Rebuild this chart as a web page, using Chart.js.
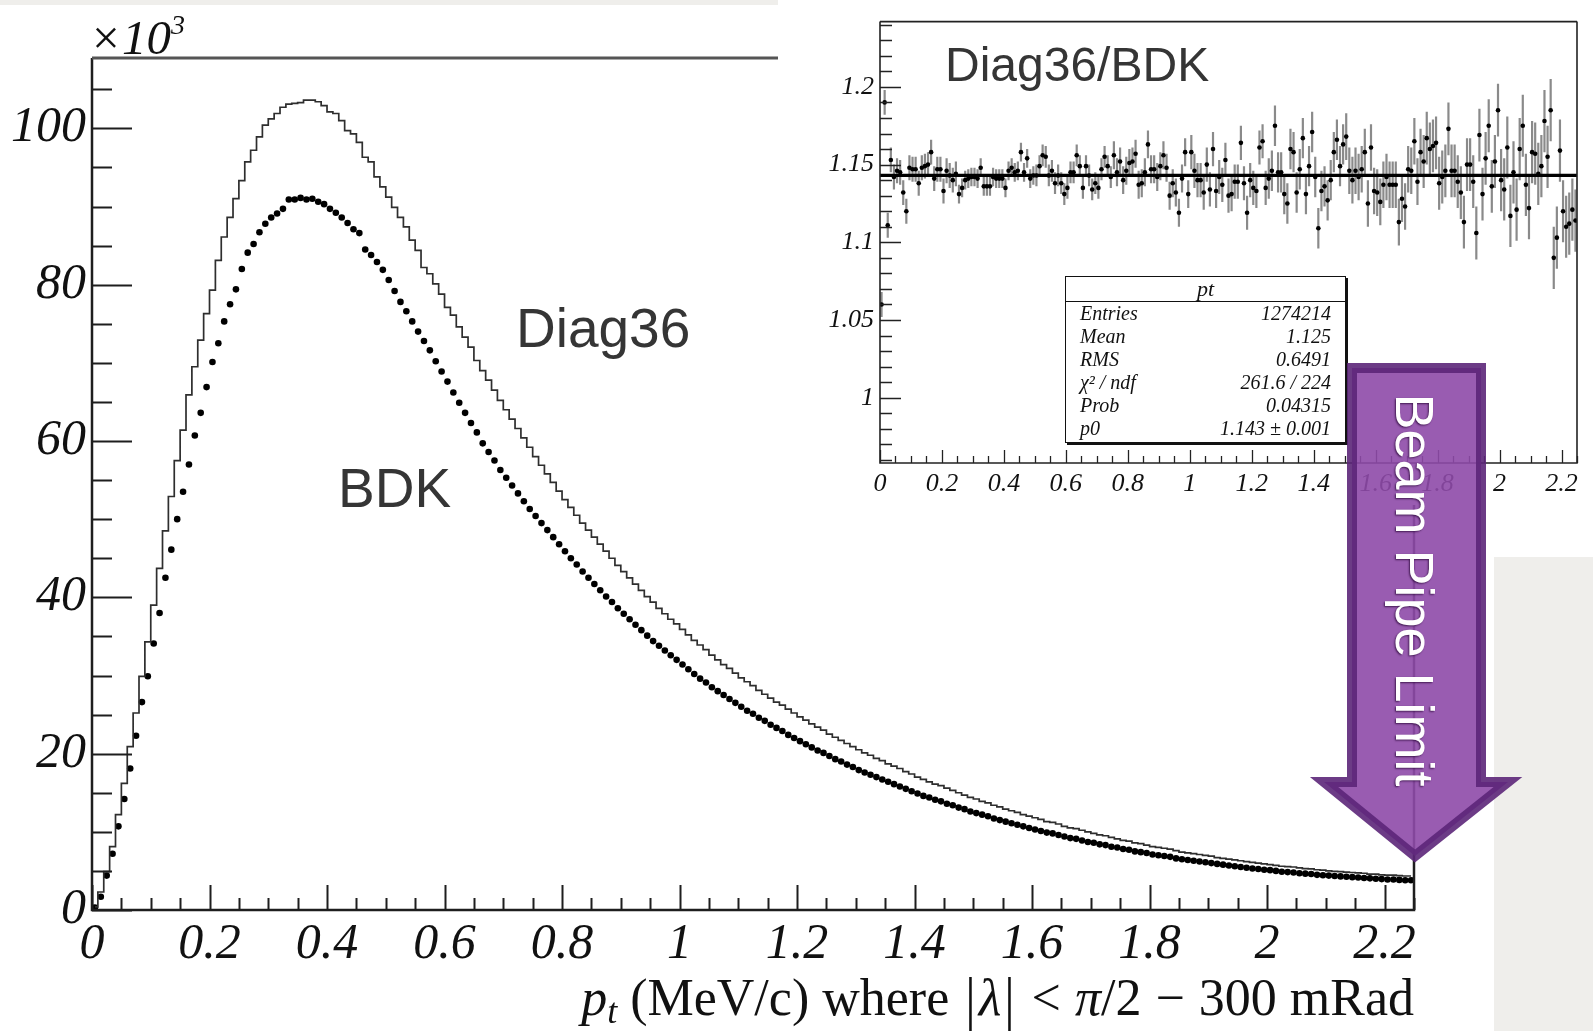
<!DOCTYPE html>
<html>
<head>
<meta charset="utf-8">
<script src="https://cdn.jsdelivr.net/npm/chart.js@4.4.1/dist/chart.umd.min.js"></script>
<style>
  html, body { margin: 0; padding: 0; background: #fff; }
  #page { position: relative; width: 1593px; height: 1031px; overflow: hidden; background: #fff; }
  #mainBox { position: absolute; left: 0; top: 0; width: 1593px; height: 1031px; }
  #insetBox { position: absolute; left: 778px; top: 0; width: 815px; height: 505px; background: #fff; }
  .band { position: absolute; background: #efeeeb; }
  .note { position: absolute; font-family: "Liberation Sans", Arial, sans-serif; color: #353535; line-height: 1; white-space: nowrap; }
  #mult { position: absolute; left: 89px; top: 13px; font: italic 49px "Liberation Serif", serif; line-height: 1; color: #111; }
  #mult span { font-size: 28px; position: relative; top: -20px; }
  #xTitle { position: absolute; right: 179px; top: 972px; font: 52px "Liberation Serif", serif; line-height: 1; color: #111; white-space: nowrap; }
  #xTitle sub { font-size: 36px; vertical-align: -8px; }
  #xTitle .op { display: inline-block; margin: 0 14px; }
  #xTitle .bar { display: inline-block; margin: 0 3px; transform: scaleY(1.15); }
  #stats { position: absolute; left: 1065px; top: 276px; width: 279px; height: 165px; border: 1.5px solid #111;
           box-shadow: 2px 2px 0 #111; background: #fff; font: italic 20px "Liberation Serif", serif; color: #111; }
  #stats .hdr { height: 24px; line-height: 24px; text-align: center; border-bottom: 1.5px solid #111; font-size: 22px; }
  #stats .row { display: flex; justify-content: space-between; height: 23px; line-height: 23px; padding: 0 14px 0 14px; }
  #arrow { position: absolute; left: 0; top: 0; }
  #arrowText { position: absolute; left: 1415px; top: 590px; transform: translate(-50%, -50%) rotate(90deg);
               font: 54px "Liberation Sans", Arial, sans-serif; line-height: 1; color: #fff; white-space: nowrap;
               text-shadow: 1px 1px 2px rgba(45, 10, 60, 0.8); }
</style>
</head>
<body>
<div id="page">
  <div id="mainBox"><canvas id="mainChart" width="1593" height="1031"></canvas></div>
  <div id="insetBox"><canvas id="insetChart" width="815" height="505"></canvas></div>
  <div class="band" style="left:0;top:0;width:778px;height:5px"></div>
  <div class="band" style="left:1494px;top:557px;width:99px;height:474px"></div>
  <div id="mult">×10<span>3</span></div>
  <div id="xTitle"><i>p</i><sub><i>t</i></sub> (MeV/c) where <span class="bar">|</span><i>λ</i><span class="bar">|</span><span class="op">&lt;</span><i>π</i>/2<span class="op">−</span>300 mRad</div>
  <div class="note" style="left:516px;top:301px;font-size:55px">Diag36</div>
  <div class="note" style="left:338px;top:461px;font-size:55px">BDK</div>
  <div class="note" style="left:945px;top:41px;font-size:48px">Diag36/BDK</div>
  <div id="stats"></div>
  <svg id="arrow" width="1593" height="1031">
    <polygon points="1352,368 1481,368 1481,782 1508,782 1415,856 1324,782 1352,782"
             fill="#8e4aa9" fill-opacity="0.9" stroke="#5c2679" stroke-opacity="0.9" stroke-width="10" stroke-linejoin="miter"/>
  </svg>
  <div id="arrowText">Beam Pipe Limit</div>
</div>

<script>
// Histogram contents in 0.01 wide bins of pt, from 0 to 2.25 (x10^3 entries)
const binWidth = 0.01;

const diag36 = [
  0.4, 2.3, 4.9, 8.1, 12.2, 16.2, 20.9, 25.2, 29.9, 34.3,
  39.0, 43.7, 48.5, 52.9, 57.5, 61.4, 65.9, 69.5, 72.9, 76.3,
  79.3, 83.1, 86.1, 88.6, 91.0, 93.3, 95.7, 97.2, 98.9, 100.4,
  101.2, 101.9, 102.7, 103.1, 103.2, 103.3, 103.6, 103.6, 103.4, 102.9,
  102.1, 101.9, 101.0, 99.7, 99.3, 98.2, 96.3, 95.7, 93.8, 92.5,
  91.2, 89.9, 88.6, 87.4, 85.7, 84.4, 82.2, 81.4, 80.1, 78.8,
  77.1, 76.1, 74.6, 73.3, 72.0, 70.3, 69.0, 67.8, 66.5, 65.2,
  64.0, 62.8, 61.6, 60.4, 59.2, 58.0, 56.9, 55.8, 54.7, 53.6,
  52.5, 51.5, 50.5, 49.5, 48.6, 47.7, 46.8, 45.9, 45.0, 44.1,
  43.3, 42.5, 41.7, 40.9, 40.1, 39.4, 38.6, 37.9, 37.2, 36.6,
  35.9, 35.2, 34.5, 33.9, 33.3, 32.6, 32.0, 31.4, 30.9, 30.3,
  29.7, 29.2, 28.7, 28.1, 27.6, 27.1, 26.6, 26.2, 25.7, 25.2,
  24.7, 24.3, 23.8, 23.4, 23.0, 22.5, 22.1, 21.7, 21.3, 20.9,
  20.5, 20.1, 19.8, 19.4, 19.1, 18.7, 18.4, 18.1, 17.7, 17.4,
  17.0, 16.7, 16.4, 16.1, 15.9, 15.6, 15.3, 15.0, 14.7, 14.4,
  14.2, 13.9, 13.7, 13.4, 13.2, 12.9, 12.7, 12.5, 12.2, 12.0,
  11.8, 11.6, 11.3, 11.2, 11.0, 10.7, 10.5, 10.4, 10.2, 10.0,
  9.8, 9.6, 9.5, 9.3, 9.1, 8.9, 8.8, 8.6, 8.5, 8.3,
  8.1, 8.0, 7.9, 7.8, 7.6, 7.4, 7.3, 7.2, 7.1, 7.0,
  6.9, 6.7, 6.6, 6.5, 6.4, 6.3, 6.2, 6.1, 6.0, 5.9,
  5.8, 5.7, 5.6, 5.55, 5.5, 5.4, 5.3, 5.25, 5.15, 5.1,
  5.0, 4.95, 4.9, 4.85, 4.8, 4.75, 4.7, 4.6, 4.6, 4.5,
  4.45, 4.45, 4.4, 4.35, 4.35
];

const bdk = [
  0.3, 1.7, 4.4, 7.2, 10.7, 14.2, 18.1, 22.3, 26.6, 29.9,
  34.1, 38.0, 42.5, 46.1, 50.0, 53.5, 57.0, 60.7, 63.6, 66.9,
  70.1, 72.5, 75.3, 77.5, 79.4, 82.0, 84.1, 85.2, 86.7, 87.8,
  88.6, 89.1, 89.7, 90.9, 90.9, 91.1, 90.9, 91.0, 90.6, 90.3,
  89.7, 89.2, 88.6, 87.9, 87.1, 86.6, 84.5, 83.8, 82.9, 81.9,
  80.6, 79.2, 77.8, 76.6, 75.3, 74.0, 72.8, 71.6, 70.2, 68.9,
  67.6, 66.2, 64.9, 63.6, 62.3, 61.1, 59.7, 58.6, 57.5, 56.3,
  55.3, 54.3, 53.3, 52.3, 51.3, 50.4, 49.5, 48.6, 47.7, 46.8,
  45.9, 45.0, 44.2, 43.3, 42.5, 41.7, 40.9, 40.1, 39.4, 38.6,
  37.9, 37.2, 36.5, 35.8, 35.1, 34.4, 33.8, 33.2, 32.6, 32.0,
  31.4, 30.8, 30.2, 29.6, 29.1, 28.5, 28.0, 27.5, 27.0, 26.5,
  26.0, 25.5, 25.1, 24.6, 24.2, 23.7, 23.3, 22.9, 22.4, 22.0,
  21.6, 21.2, 20.8, 20.4, 20.1, 19.7, 19.3, 19.0, 18.6, 18.3,
  17.9, 17.6, 17.3, 17.0, 16.7, 16.4, 16.1, 15.8, 15.5, 15.2,
  14.9, 14.6, 14.4, 14.1, 13.9, 13.6, 13.4, 13.1, 12.9, 12.6,
  12.4, 12.2, 12.0, 11.7, 11.5, 11.3, 11.1, 10.9, 10.7, 10.5,
  10.3, 10.1, 9.9, 9.8, 9.6, 9.4, 9.2, 9.1, 8.9, 8.7,
  8.6, 8.4, 8.3, 8.1, 8.0, 7.8, 7.7, 7.5, 7.4, 7.3,
  7.1, 7.0, 6.9, 6.8, 6.6, 6.5, 6.4, 6.3, 6.2, 6.1,
  6.0, 5.9, 5.8, 5.7, 5.6, 5.5, 5.4, 5.3, 5.25, 5.15,
  5.1, 5.0, 4.9, 4.85, 4.8, 4.7, 4.65, 4.6, 4.5, 4.45,
  4.4, 4.35, 4.3, 4.25, 4.2, 4.15, 4.1, 4.05, 4.0, 3.95,
  3.9, 3.9, 3.85, 3.8, 3.8
];

// Diag36/BDK ratio per bin (inset)
const ratio = [
  1.060, 1.190, 1.111, 1.153, 1.142, 1.146, 1.145, 1.132, 1.120, 1.148,
  1.147, 1.147, 1.138, 1.148, 1.149, 1.150, 1.158, 1.141, 1.147, 1.147,
  1.133, 1.146, 1.143, 1.140, 1.144, 1.131, 1.135, 1.140, 1.141, 1.142,
  1.142, 1.141, 1.148, 1.136, 1.136, 1.136, 1.142, 1.141, 1.141, 1.141,
  1.135, 1.146, 1.148, 1.145, 1.146, 1.158, 1.145, 1.154, 1.141, 1.143,
  1.143, 1.149, 1.156, 1.155, 1.143, 1.146, 1.138, 1.143, 1.138, 1.131,
  1.135, 1.145, 1.145, 1.156, 1.149, 1.135, 1.149, 1.143, 1.134, 1.138,
  1.135, 1.147, 1.155, 1.149, 1.142, 1.156, 1.145, 1.152, 1.140, 1.146,
  1.151, 1.152, 1.157, 1.137, 1.138, 1.145, 1.163, 1.147, 1.147, 1.142,
  1.149, 1.156, 1.148, 1.130, 1.138, 1.132, 1.119, 1.141, 1.158, 1.131,
  1.158, 1.146, 1.140, 1.140, 1.132, 1.150, 1.134, 1.160, 1.133, 1.142,
  1.137, 1.153, 1.130, 1.131, 1.139, 1.139, 1.164, 1.138, 1.119, 1.140,
  1.135, 1.133, 1.161, 1.165, 1.135, 1.141, 1.146, 1.175, 1.145, 1.145,
  1.131, 1.125, 1.160, 1.158, 1.132, 1.147, 1.167, 1.131, 1.149, 1.171,
  1.142, 1.109, 1.133, 1.136, 1.127, 1.140, 1.158, 1.166, 1.149, 1.163,
  1.168, 1.146, 1.140, 1.146, 1.142, 1.147, 1.158, 1.125, 1.161, 1.133,
  1.132, 1.126, 1.137, 1.142, 1.137, 1.137, 1.137, 1.113, 1.128, 1.123,
  1.147, 1.146, 1.165, 1.139, 1.158, 1.152, 1.167, 1.160, 1.162, 1.164,
  1.138, 1.142, 1.146, 1.173, 1.146, 1.146, 1.139, 1.132, 1.113, 1.150,
  1.150, 1.139, 1.106, 1.169, 1.131, 1.154, 1.175, 1.136, 1.152, 1.185,
  1.140, 1.134, 1.161, 1.117, 1.145, 1.121, 1.160, 1.175, 1.137, 1.122,
  1.158, 1.157, 1.144, 1.149, 1.178, 1.155, 1.185, 1.090, 1.103, 1.159,
  1.120, 1.110, 1.112, 1.121, 1.114
];

// rough error bar half-size, one value per 0.25 of pt
const ratioErr = [0.008, 0.006, 0.007, 0.009, 0.011, 0.013, 0.015, 0.017, 0.020];
const ratioFit = 1.143;

// tick labels
const xTickLabels = ['0', '0.2', '0.4', '0.6', '0.8', '1', '1.2', '1.4', '1.6', '1.8', '2', '2.2'];
const mainYLabels = ['0', '20', '40', '60', '80', '100'];
const insetYLabels = ['1', '1.05', '1.1', '1.15', '1.2'];

// fit box text
const statsRows = [
  ['Entries', '1274214'],
  ['Mean', '1.125'],
  ['RMS', '0.6491'],
  ['χ² / ndf', '261.6 / 224'],
  ['Prob', '0.04315'],
  ['p0', '1.143 ± 0.001']
];

function binCenter(i) {
  return Math.round((i + 0.5) * binWidth * 1000) / 1000;
}

function isMultiple(v, step) {
  const k = Math.round(v / step);
  return Math.abs(v - k * step) < 1e-6;
}

// ROOT-like frame: ticks pointing inward, major/minor lengths
const rootFrame = {
  id: 'rootFrame',
  afterDatasetsDraw(chart, args, o) {
    const { ctx, chartArea: a, scales: { x, y } } = chart;
    ctx.save();
    ctx.strokeStyle = o.color;
    ctx.lineWidth = o.tickWidth;
    ctx.beginPath();
    x.ticks.forEach(t => {
      const px = Math.round(x.getPixelForValue(t.value)) + 0.5;
      const len = isMultiple(t.value, o.xStep) ? o.xMajor : o.xMinor;
      ctx.moveTo(px, a.bottom);
      ctx.lineTo(px, a.bottom - len);
    });
    y.ticks.forEach(t => {
      const py = Math.round(y.getPixelForValue(t.value)) + 0.5;
      const len = isMultiple(t.value - o.yOrigin, o.yStep) ? o.yMajor : o.yMinor;
      ctx.moveTo(a.left, py);
      ctx.lineTo(a.left + len, py);
    });
    ctx.stroke();

    ctx.lineWidth = o.frameWidth;
    ctx.beginPath();
    ctx.moveTo(a.left, a.top);
    ctx.lineTo(a.left, a.bottom);
    ctx.lineTo(a.right, a.bottom);
    ctx.lineTo(a.right, a.top);
    ctx.stroke();

    ctx.strokeStyle = o.topColor;
    ctx.lineWidth = o.topWidth;
    ctx.beginPath();
    ctx.moveTo(a.left, a.top);
    ctx.lineTo(o.topEnd > 0 ? o.topEnd : a.right, a.top);
    ctx.stroke();
    ctx.restore();
  }
};

// vertical error bars under the ratio points
const errorBars = {
  id: 'errorBars',
  beforeDatasetsDraw(chart) {
    const { ctx, chartArea: a, scales: { x, y } } = chart;
    const ds = chart.data.datasets.find(d => d.errors);
    if (!ds) return;
    ctx.save();
    ctx.beginPath();
    ctx.rect(a.left, a.top, a.right - a.left, a.bottom - a.top);
    ctx.clip();
    ctx.strokeStyle = '#8a8a8a';
    ctx.lineWidth = 2.2;
    ctx.beginPath();
    ds.data.forEach((p, i) => {
      const e = ds.errors[i];
      const px = x.getPixelForValue(p.x);
      ctx.moveTo(px, y.getPixelForValue(p.y - e));
      ctx.lineTo(px, y.getPixelForValue(p.y + e));
    });
    ctx.stroke();
    ctx.restore();
  }
};

const serifTicks = size => ({ family: '"Liberation Serif", "Times New Roman", serif', style: 'italic', size: size });

// Main histogram comparison
const mainChart = new Chart(document.getElementById('mainChart'), {
  type: 'scatter',
  data: {
    datasets: [
      {
        label: 'Diag36',
        data: diag36.map((v, i) => ({ x: binCenter(i), y: v })),
        showLine: true,
        stepped: 'middle',
        borderColor: '#2e2e2e',
        borderWidth: 1.7,
        pointRadius: 0,
        fill: false
      },
      {
        label: 'BDK',
        data: bdk.map((v, i) => ({ x: binCenter(i), y: v })),
        showLine: false,
        pointRadius: 3.3,
        pointBorderWidth: 0,
        pointBackgroundColor: '#000'
      }
    ]
  },
  options: {
    responsive: false,
    animation: false,
    events: [],
    layout: { padding: { top: 58, right: 179, left: 0, bottom: 0 } },
    plugins: {
      legend: { display: false },
      tooltip: { enabled: false },
      rootFrame: {
        color: '#1e1e1e', tickWidth: 2, frameWidth: 2.5,
        xStep: 0.2, xMajor: 25, xMinor: 12,
        yStep: 20, yOrigin: 0, yMajor: 40, yMinor: 20,
        topEnd: 778, topColor: '#555', topWidth: 3
      }
    },
    scales: {
      x: {
        type: 'linear', min: 0, max: 2.25,
        afterFit: s => { s.height = 121; },
        grid: { display: false, drawTicks: false },
        border: { display: false },
        ticks: {
          stepSize: 0.05, autoSkip: false, maxRotation: 0, includeBounds: false, padding: 5,
          color: '#111', font: serifTicks(50),
          callback: v => isMultiple(v, 0.2) ? (xTickLabels[Math.round(v / 0.2)] ?? '') : ''
        }
      },
      y: {
        type: 'linear', min: 0, max: 109,
        afterFit: s => { s.width = 92; },
        grid: { display: false, drawTicks: false },
        border: { display: false },
        ticks: {
          stepSize: 5, autoSkip: false, includeBounds: false, padding: 6,
          color: '#111', font: serifTicks(50),
          callback: v => isMultiple(v, 20) ? (mainYLabels[Math.round(v / 20)] ?? '') : ''
        }
      }
    }
  },
  plugins: [rootFrame]
});

// Inset: ratio with constant fit
const insetChart = new Chart(document.getElementById('insetChart'), {
  type: 'scatter',
  data: {
    datasets: [
      {
        label: 'fit',
        data: [{ x: 0, y: ratioFit }, { x: 2.25, y: ratioFit }],
        showLine: true,
        borderColor: '#000',
        borderWidth: 3.2,
        pointRadius: 0
      },
      {
        label: 'Diag36/BDK',
        data: ratio.map((v, i) => ({ x: binCenter(i), y: v })),
        errors: ratio.map((v, i) => ratioErr[Math.min(ratioErr.length - 1, Math.floor(i / 25))]),
        showLine: false,
        pointRadius: 2.3,
        pointBorderWidth: 0,
        pointBackgroundColor: '#000'
      }
    ]
  },
  options: {
    responsive: false,
    animation: false,
    events: [],
    layout: { padding: { top: 14, right: 16, left: 0, bottom: 0 } },
    plugins: {
      legend: { display: false },
      tooltip: { enabled: false },
      rootFrame: {
        color: '#222', tickWidth: 1.3, frameWidth: 1.6,
        xStep: 0.2, xMajor: 13, xMinor: 7,
        yStep: 0.05, yOrigin: 1, yMajor: 21, yMinor: 12,
        topEnd: 0, topColor: '#222', topWidth: 1.6
      }
    },
    scales: {
      x: {
        type: 'linear', min: 0, max: 2.25,
        afterFit: s => { s.height = 42; },
        grid: { display: false, drawTicks: false },
        border: { display: false },
        ticks: {
          stepSize: 0.05, autoSkip: false, maxRotation: 0, includeBounds: false, padding: 6,
          color: '#111', font: serifTicks(26),
          callback: v => isMultiple(v, 0.2) ? (xTickLabels[Math.round(v / 0.2)] ?? '') : ''
        }
      },
      y: {
        type: 'linear', min: 0.958, max: 1.242,
        afterFit: s => { s.width = 102; },
        grid: { display: false, drawTicks: false },
        border: { display: false },
        ticks: {
          stepSize: 0.01, autoSkip: false, includeBounds: false, padding: 6,
          color: '#111', font: serifTicks(26),
          callback: v => isMultiple(v - 1, 0.05) ? (insetYLabels[Math.round((v - 1) / 0.05)] ?? '') : ''
        }
      }
    }
  },
  plugins: [errorBars, rootFrame]
});

// Stats box
const statsBox = document.getElementById('stats');
const hdr = document.createElement('div');
hdr.className = 'hdr';
hdr.textContent = 'pt';
statsBox.appendChild(hdr);
statsRows.forEach(([name, value]) => {
  const row = document.createElement('div');
  row.className = 'row';
  const a = document.createElement('span');
  a.textContent = name;
  const b = document.createElement('span');
  b.textContent = value;
  row.appendChild(a);
  row.appendChild(b);
  statsBox.appendChild(row);
});
</script>
</body>
</html>
